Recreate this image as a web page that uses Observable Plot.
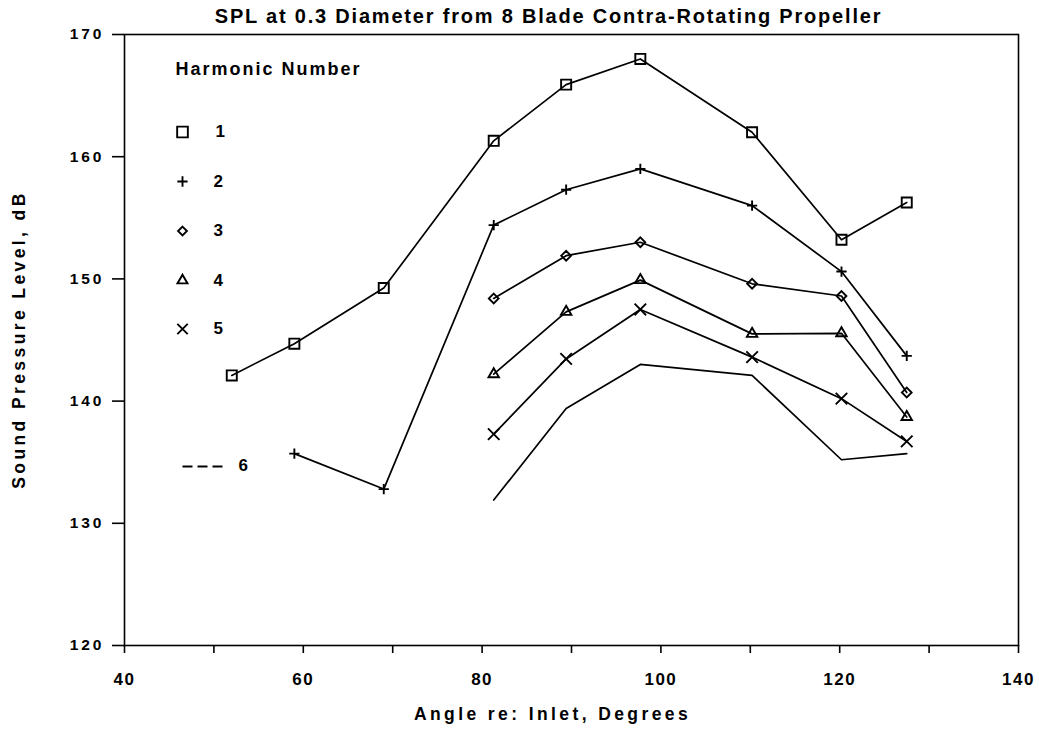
<!DOCTYPE html>
<html>
<head>
<meta charset="utf-8">
<script src="https://cdn.jsdelivr.net/npm/d3@7"></script>
<script src="https://cdn.jsdelivr.net/npm/@observablehq/plot@0.6"></script>
<style>
  html, body { margin: 0; padding: 0; background: #fff; }
  svg { font-family: "Liberation Sans", Arial, sans-serif; }
</style>
</head>
<body>
<div id="chart"></div>
<script>
// ---- data ----
const angles = [52, 59, 69, 81.3, 89.4, 97.7, 110.2, 120.2, 127.5];
const harmonic1 = [142.1, 144.7, 149.25, 161.3, 165.9, 168.0, 162.0, 153.2, 156.25];
const harmonic2 = [null, 135.7, 132.8, 154.4, 157.3, 159.0, 156.0, 150.6, 143.7];
const harmonic3 = [null, null, null, 148.4, 151.9, 153.0, 149.6, 148.6, 140.7];
const harmonic4 = [null, null, null, 142.2, 147.3, 149.9, 145.5, 145.55, 138.7];
const harmonic5 = [null, null, null, 137.3, 143.45, 147.5, 143.6, 140.2, 136.7];
const harmonic6 = [null, null, null, 131.9, 139.4, 143.0, 142.1, 135.2, 135.7];
const harmonicLabels = ["1", "2", "3", "4", "5", "6"];
const xTicks = [40, 50, 60, 70, 80, 90, 100, 110, 120, 130, 140];
const yTicks = [120, 130, 140, 150, 160, 170];
const titleText = "SPL at 0.3 Diameter from 8 Blade Contra-Rotating Propeller";
const xTitle = "Angle re: Inlet, Degrees";
const yTitle = "Sound Pressure Level, dB";
const legendTitle = "Harmonic Number";

const series = [harmonic1, harmonic2, harmonic3, harmonic4, harmonic5, harmonic6];
const rows = [];
series.forEach((vals, i) => {
  vals.forEach((v, j) => {
    if (v != null) rows.push({harmonic: i + 1, angle: angles[j], spl: v});
  });
});

const symbols = ["square2", "plus", "diamond2", "triangle2", "times"];
const radii = [6.4, 3.4, 4.4, 5.0, 5.3];
const legendRadii = [6.8, 3.4, 4.0, 4.8, 4.8];

const dash3 = {
  draw(ctx) {
    for (let k = 0; k < 3; k++) {
      ctx.moveTo(-20 + k * 15, 0);
      ctx.lineTo(-20 + k * 15 + 10, 0);
    }
  }
};

const W = 1039, H = 735;
const mL = 124, mR = 21, mT = 34, mB = 90;
const cx = mL + (W - mL - mR) / 2;
const cy = mT + (H - mT - mB) / 2;
const FONT = "'Liberation Sans', Arial, sans-serif";

const marks = [
  Plot.frame({stroke: "black", strokeWidth: 1.6}),
  Plot.axisX({ticks: xTicks, tickSize: 8, tickPadding: 19,
    tickFormat: d => (d % 20 === 0 ? String(d) : ""),
    fontSize: 17, fontWeight: "bold", label: null, strokeWidth: 1.6}),
  Plot.axisY({ticks: yTicks, tickSize: 12, tickPadding: 8,
    fontSize: 15.5, fontWeight: "bold", label: null, strokeWidth: 1.6}),
  Plot.line(rows, {x: "angle", y: "spl", z: "harmonic", stroke: "black", strokeWidth: 1.7, curve: "linear"})
];

symbols.forEach((sym, i) => {
  marks.push(Plot.dot(rows.filter(d => d.harmonic === i + 1), {
    x: "angle", y: "spl", symbol: sym, r: radii[i], stroke: "black", fill: "none", strokeWidth: 1.9
  }));
});

const label = (str, x, y, opts) => Plot.text([str], {
  frameAnchor: "top-left", dx: x - mL, dy: y - mT, text: d => d,
  textAnchor: "start", lineAnchor: "middle", fontWeight: "bold", fill: "black", ...opts
});

// legend
marks.push(label(legendTitle, 175, 69, {fontSize: 18}));
const legendY = [131.5, 181, 230.5, 280, 328.5];
const labelX = [215, 213, 213, 213, 213];
symbols.forEach((sym, i) => {
  marks.push(Plot.dot([0], {frameAnchor: "top-left", dx: 182 - mL, dy: legendY[i] - mT,
    symbol: sym, r: legendRadii[i], stroke: "black", fill: "none", strokeWidth: 1.9}));
  marks.push(label(harmonicLabels[i], labelX[i], legendY[i], {fontSize: 17}));
});
marks.push(Plot.dot([0], {frameAnchor: "top-left", dx: 202 - mL, dy: 466 - mT,
  symbol: dash3, stroke: "black", fill: "none", strokeWidth: 2}));
marks.push(label(harmonicLabels[5], 238, 465, {fontSize: 17}));

// title and axis labels
marks.push(label(titleText, 548, 16, {textAnchor: "middle", fontSize: 20}));
marks.push(label(xTitle, 552, 714, {textAnchor: "middle", fontSize: 17.5}));
marks.push(label(yTitle, 19, 339, {textAnchor: "middle", fontSize: 17.5, rotate: -90}));

const chart = Plot.plot({
  width: W, height: H,
  marginLeft: mL, marginRight: mR, marginTop: mT, marginBottom: mB,
  x: {domain: [40, 140]},
  y: {domain: [120, 170]},
  style: {fontFamily: FONT, color: "black", background: "white"},
  marks
});

// letter spacing (tracking) of the original typewriter-like lettering
const svg = d3.select(chart);
const trackText = (str, ls) => svg.selectAll("text")
  .filter(function () { return this.textContent === str; })
  .attr("letter-spacing", ls);
trackText(titleText, 1.8);
trackText(legendTitle, 2);
trackText(xTitle, 3.4);
trackText(yTitle, 3.4);
svg.selectAll('g[aria-label="x-axis tick label"] text').attr("letter-spacing", 1.5);
svg.selectAll('g[aria-label="y-axis tick label"] text').attr("letter-spacing", 3);

document.getElementById("chart").appendChild(chart);
</script>
</body>
</html>
